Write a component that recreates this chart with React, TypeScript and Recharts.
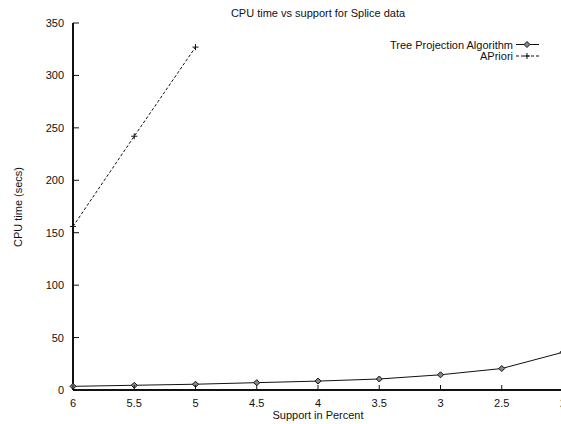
import React from 'react';
import { LineChart, Line, XAxis, YAxis } from 'recharts';

// support levels (percent) and CPU seconds
const treeSupport = [6, 5.5, 5, 4.5, 4, 3.5, 3, 2.5, 2];
const treeTime = [3.5, 4.5, 5.5, 7, 8.5, 10.5, 14.5, 20.5, 36];
const aprioriSupport = [6, 5.5, 5];
const aprioriTime = [156, 242, 327];

const xTicks = [6, 5.5, 5, 4.5, 4, 3.5, 3, 2.5, 2];
const yTicks = [0, 50, 100, 150, 200, 250, 300, 350];
const seriesNames = ['Tree Projection Algorithm', 'APriori'];

const FONT = '"Liberation Sans", Arial, Helvetica, sans-serif';
const INK = '#111';

const treeData = treeSupport.map((s, i) => ({ support: s, time: treeTime[i] }));
const aprioriData = aprioriSupport.map((s, i) => ({ support: s, time: aprioriTime[i] }));

const Diamond = ({ cx, cy }: any) => {
  if (cx == null || cy == null) return null;
  const r = 3;
  return (
    <path
      d={`M${cx},${cy - r}L${cx + r},${cy}L${cx},${cy + r}L${cx - r},${cy}Z`}
      fill="#888"
      stroke={INK}
      strokeWidth={1}
    />
  );
};

const Plus = ({ cx, cy }: any) => {
  if (cx == null || cy == null) return null;
  const r = 3;
  return (
    <path d={`M${cx - r},${cy}H${cx + r}M${cx},${cy - r}V${cy + r}`} stroke={INK} strokeWidth={1} fill="none" />
  );
};

const BottomTick = ({ x, y, payload }: any) => (
  <g>
    <line x1={x} x2={x} y1={y} y2={y - 5} stroke={INK} />
    <text x={x} y={y + 17} textAnchor="middle" fontSize={11} fontFamily={FONT} fill={INK}>
      {payload.value}
    </text>
  </g>
);

const TopTick = ({ x, y }: any) => <line x1={x} x2={x} y1={y} y2={y + 5} stroke={INK} />;

const LeftTick = ({ x, y, payload }: any) => (
  <g>
    <line x1={x} x2={x + 6} y1={y} y2={y} stroke={INK} />
    <text x={x - 9} y={y + 4} textAnchor="end" fontSize={11} fontFamily={FONT} fill={INK}>
      {payload.value}
    </text>
  </g>
);

const RightTick = ({ x, y }: any) => <line x1={x} x2={x - 5} y1={y} y2={y} stroke={INK} />;

export default function App() {
  return (
    <div style={{ position: 'absolute', left: 0, top: 0, width: 561, height: 424, overflow: 'hidden', background: '#fff' }}>
      <LineChart width={580} height={424} margin={{ top: 23, right: 17, bottom: 0, left: 0 }}>
        <XAxis
          dataKey="support"
          type="number"
          domain={[2, 6]}
          reversed
          ticks={xTicks}
          interval={0}
          height={34}
          tickSize={0}
          tickMargin={0}
          tick={<BottomTick />}
          axisLine={{ stroke: INK, strokeWidth: 2 }}
          allowDuplicatedCategory={false}
        />
        <XAxis
          xAxisId="top"
          orientation="top"
          dataKey="support"
          type="number"
          domain={[2, 6]}
          reversed
          ticks={xTicks}
          interval={0}
          height={0}
          tickSize={0}
          tickMargin={0}
          tick={<TopTick />}
          axisLine={{ stroke: INK, strokeWidth: 1 }}
        />
        <YAxis
          type="number"
          domain={[0, 350]}
          ticks={yTicks}
          interval={0}
          width={73}
          tickSize={0}
          tickMargin={0}
          tick={<LeftTick />}
          axisLine={{ stroke: INK, strokeWidth: 2 }}
        />
        <YAxis
          yAxisId="right"
          orientation="right"
          type="number"
          domain={[0, 350]}
          ticks={yTicks}
          interval={0}
          width={0}
          tickSize={0}
          tickMargin={0}
          tick={<RightTick />}
          axisLine={{ stroke: INK, strokeWidth: 1 }}
        />
        <Line
          data={treeData}
          dataKey="time"
          name={seriesNames[0]}
          type="linear"
          stroke={INK}
          strokeWidth={1}
          dot={<Diamond />}
          isAnimationActive={false}
        />
        <Line
          data={aprioriData}
          dataKey="time"
          name={seriesNames[1]}
          type="linear"
          stroke={INK}
          strokeWidth={1}
          strokeDasharray="3 2"
          dot={<Plus />}
          isAnimationActive={false}
        />
      </LineChart>
      <svg
        width={561}
        height={424}
        style={{ position: 'absolute', left: 0, top: 0, pointerEvents: 'none' }}
        fontFamily={FONT}
        fontSize={11}
      >
        <text x={318} y={17} textAnchor="middle" fill={INK}>
          CPU time vs support for Splice data
        </text>
        <text x={318} y={419} textAnchor="middle" fill={INK}>
          Support in Percent
        </text>
        <text x={22} y={207} textAnchor="middle" fill={INK} transform="rotate(-90 22 207)">
          CPU time (secs)
        </text>
        <text x={513} y={48.5} textAnchor="end" fill={INK}>
          {seriesNames[0]}
        </text>
        <line x1={516} x2={539} y1={44.5} y2={44.5} stroke={INK} />
        <Diamond cx={527} cy={44.5} />
        <text x={513} y={60} textAnchor="end" fill={INK}>
          {seriesNames[1]}
        </text>
        <line x1={516} x2={539} y1={56} y2={56} stroke={INK} strokeDasharray="3 2" />
        <Plus cx={527} cy={56} />
      </svg>
    </div>
  );
}
